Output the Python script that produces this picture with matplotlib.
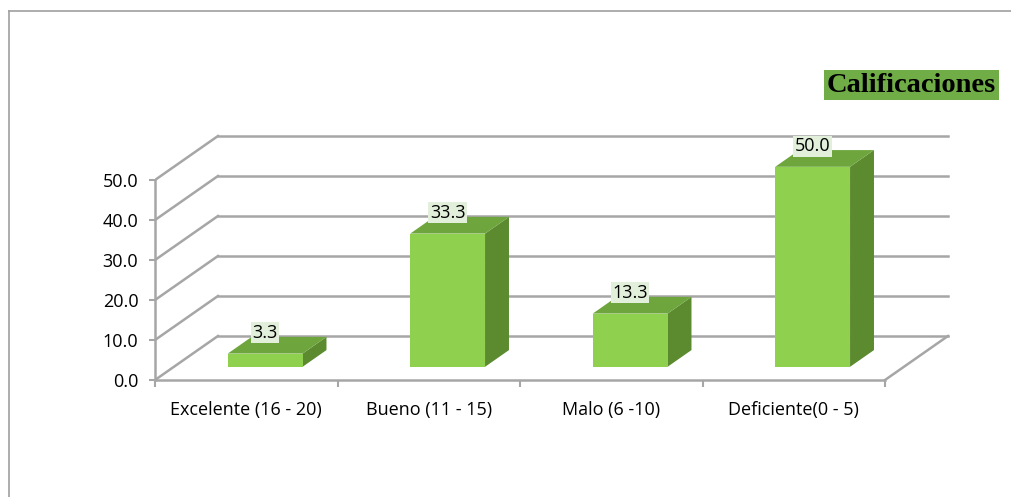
import matplotlib.pyplot as plt
from matplotlib.patches import Polygon
from matplotlib.lines import Line2D

categorias = ["Excelente (16 - 20)", "Bueno (11 - 15)", "Malo (6 -10)", "Deficiente(0 - 5)"]
valores = [3.3, 33.3, 13.3, 50.0]
y_ticks = [0, 10, 20, 30, 40, 50]
titulo = "Calificaciones"

# pseudo 3d look (Excel style): depth offset in data units
DX, DY = 0.345, 11.0
W = 0.41            # bar width (category units)
F0, F1 = 0.30, 0.68  # bar depth position inside the floor

c_front = '#8fd14f'
c_top = '#6ea63d'
c_side = '#5b8a2f'
c_grid = '#a6a6a6'

plt.rcParams['font.family'] = ['Open Sans', 'DejaVu Sans']

fig = plt.figure(figsize=(10.11, 4.97), dpi=100)
ax = fig.add_axes([155 / 1011, (497 - 380) / 497, 800 / 1011, 270 / 497])
ax.set_xlim(0, 800 / 182.5)
ax.set_ylim(0, 270 / 4.0)

n = len(categorias)
top = y_ticks[-1]

# back wall + left wall gridlines
for v in y_ticks:
    ax.add_line(Line2D([DX, n + DX], [v + DY, v + DY], color=c_grid, lw=1.8, zorder=1))
    ax.add_line(Line2D([0, DX], [v, v + DY], color=c_grid, lw=1.8, zorder=1))
# floor right edge
ax.add_line(Line2D([n, n + DX], [0, DY], color=c_grid, lw=1.8, zorder=1))

# bars
d = F1 - F0
for i, v in enumerate(valores):
    x0 = i + 0.5 - W / 2 + F0 * DX
    x1 = x0 + W
    y0 = F0 * DY
    front = [(x0, y0), (x1, y0), (x1, y0 + v), (x0, y0 + v)]
    tapa = [(x0, y0 + v), (x1, y0 + v), (x1 + d * DX, y0 + v + d * DY), (x0 + d * DX, y0 + v + d * DY)]
    lado = [(x1, y0), (x1, y0 + v), (x1 + d * DX, y0 + v + d * DY), (x1 + d * DX, y0 + d * DY)]
    ax.add_patch(Polygon(lado, closed=True, fc=c_side, ec='none', zorder=3))
    ax.add_patch(Polygon(tapa, closed=True, fc=c_top, ec='none', zorder=3))
    ax.add_patch(Polygon(front, closed=True, fc=c_front, ec='none', zorder=4))
    ax.text((x0 + x1) / 2, y0 + v + d * DY + 1.0, f"{v:.1f}", ha='center', va='center',
            fontsize=13, zorder=6,
            bbox=dict(boxstyle='square,pad=0.08', fc='#e2efda', ec='none'))

# axes
for s in ['top', 'right']:
    ax.spines[s].set_visible(False)
ax.spines['left'].set_bounds(0, top)
ax.spines['bottom'].set_bounds(0, n)
ax.spines['left'].set_color(c_grid)
ax.spines['bottom'].set_color(c_grid)
ax.spines['left'].set_linewidth(1.8)
ax.spines['bottom'].set_linewidth(1.8)

ax.set_yticks(y_ticks)
ax.set_yticklabels([f"{t:.1f}" for t in y_ticks])
ax.tick_params(axis='y', length=4, width=1.5, color=c_grid, pad=8, labelsize=13)

ax.set_xticks(range(n + 1))
ax.set_xticklabels([])
ax.set_xticks([i + 0.5 for i in range(n)], minor=True)
ax.set_xticklabels(categorias, minor=True)
ax.tick_params(axis='x', which='major', length=5, width=1.5, color=c_grid)
ax.tick_params(axis='x', which='minor', length=0, pad=15, labelsize=13)
ax.patch.set_visible(False)

# title box
fig.text(996 / 1011, 1 - 85 / 497, titulo, ha='right', va='center', fontsize=20.5,
         fontweight='bold', family='Liberation Serif',
         bbox=dict(boxstyle='square,pad=0.1', fc='#70ad47', ec='none'))

# chart area border
fig.add_artist(Line2D([9 / 1011, 1], [1 - 11 / 497, 1 - 11 / 497], color='#a0a0a0', lw=1.2))
fig.add_artist(Line2D([9 / 1011, 9 / 1011], [0, 1 - 11 / 497], color='#a0a0a0', lw=1.2))

fig.savefig('out.png', dpi=100)
